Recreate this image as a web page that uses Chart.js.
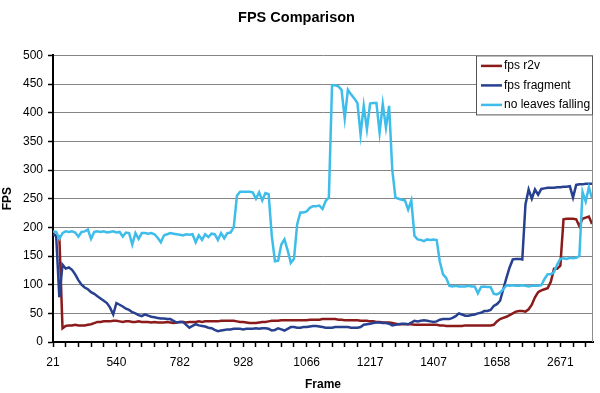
<!DOCTYPE html>
<html>
<head>
<meta charset="utf-8">
<title>FPS Comparison</title>
<script src="https://cdn.jsdelivr.net/npm/chart.js@4.4.1/dist/chart.umd.min.js"></script>
<style>
    html, body { margin: 0; padding: 0; background: #fff; }
    #wrap { width: 600px; height: 393px; position: relative; }
</style>
</head>
<body>
<div id="wrap"><canvas id="fpsChart" width="600" height="393"></canvas></div>
<script>
// Frame labels shown under every 5th tick mark
const tickLabels = ['21', '540', '782', '928', '1066', '1217', '1407', '1658', '2671'];

// Samples, 4 samples per tick mark
const fpsR2v = [
    188, 186, 184, 24, 28, 29, 29, 30, 29, 29,
    29, 30, 31, 33, 35, 35, 36, 36, 36, 37,
    37, 36, 35, 36, 36, 35, 35, 36, 35, 35,
    35, 34, 35, 34, 34, 34, 35, 34, 33, 34,
    35, 35, 34, 35, 35, 35, 36, 35, 36, 36,
    36, 36, 36, 37, 37, 37, 37, 37, 36, 35,
    35, 34, 33, 33, 33, 34, 35, 35, 36, 37,
    37, 37, 38, 38, 38, 38, 38, 38, 38, 38,
    38, 39, 39, 39, 39, 40, 40, 40, 40, 40,
    39, 39, 38, 38, 38, 38, 38, 37, 37, 37,
    36, 36, 35, 35, 34, 34, 34, 33, 32, 31,
    31, 31, 31, 31, 30, 30, 30, 30, 30, 30,
    30, 30, 29, 29, 28, 28, 28, 28, 28, 28,
    29, 29, 29, 29, 29, 29, 29, 29, 29, 30,
    36, 40, 42, 44, 47, 50, 53, 54, 54, 53,
    57, 65, 78, 87, 90, 92, 94, 105, 128, 128,
    133, 214, 215, 215, 215, 214, 202, 215, 217, 219,
    206
];

const fpsFragment = [
    188, 185, 78, 135, 128, 130, 126, 118, 108, 100,
    95, 92, 87, 84, 80, 76, 72, 68, 60, 48,
    68, 65, 62, 58, 56, 52, 50, 47, 45, 48,
    46, 44, 43, 42, 41, 41, 40, 40, 37, 34,
    35, 35, 30, 25, 28, 31, 29, 28, 27, 25,
    24, 21, 19, 20, 21, 22, 22, 23, 23, 23,
    22, 23, 23, 23, 24, 23, 24, 24, 23, 20,
    21, 24, 22, 20, 23, 26, 26, 25, 25, 26,
    26, 27, 28, 28, 27, 26, 25, 25, 25, 26,
    26, 26, 26, 26, 25, 25, 25, 26, 30, 31,
    32, 33, 34, 34, 33, 33, 32, 29, 30, 31,
    32, 32, 31, 34, 37, 36, 37, 38, 37, 36,
    35, 36, 39, 40, 40, 40, 42, 45, 50, 48,
    46, 46, 47, 48, 50, 51, 54, 54, 56, 63,
    66, 72, 92, 112, 130, 144, 145, 145, 144, 240,
    266, 250, 266, 257, 267, 268, 269, 269, 269, 270,
    270, 271, 271, 272, 252, 274, 275, 275, 276, 276,
    276
];

const noLeaves = [
    193, 192, 180, 190, 193, 192, 193, 191, 184, 192,
    193, 196, 180, 192, 193, 192, 193, 191, 192, 193,
    191, 192, 184, 191, 190, 170, 190, 180, 190, 190,
    189, 190, 188, 182, 174, 186, 188, 190, 189, 188,
    187, 186, 188, 187, 188, 174, 186, 178, 188, 183,
    189, 188, 178, 190, 181, 190, 191, 200, 255, 262,
    262, 262, 262, 261, 250, 261, 247, 260, 258, 185,
    141, 142, 170, 179, 160, 138, 145, 205, 226, 226,
    228, 234, 237, 237, 238, 232, 246, 252, 448, 448,
    446, 440, 390, 440, 432, 425, 417, 362, 412, 371,
    416, 417, 417, 365, 415, 374, 412, 300, 252, 250,
    248, 247, 231, 247, 185, 179, 178, 176, 179, 178,
    179, 178, 140, 118, 112, 98, 97, 98, 97, 97,
    97, 98, 97, 97, 85, 96, 97, 96, 96, 84,
    83, 86, 92, 99, 98, 99, 98, 98, 99, 98,
    97, 98, 98, 98, 99, 110, 118, 118, 122, 135,
    145, 146, 145, 147, 146, 147, 150, 262, 245, 270,
    250
];

const samplesPerTick = 4;
const ticksPerLabel = 5;

function toPoints(values) {
    return values.map((v, i) => ({ x: i, y: v }));
}

// Legend box sitting over the top right of the plot, like the original
const boxLegend = {
    id: 'boxLegend',
    afterDatasetsDraw(chart) {
        const ctx = chart.ctx;
        const area = chart.chartArea;
        const w = 117, h = 60;
        const left = area.right - w;
        const top = area.top;

        ctx.save();
        // right border of the plot area
        ctx.strokeStyle = '#8c8c8c';
        ctx.lineWidth = 1;
        ctx.beginPath();
        ctx.moveTo(area.right - 0.5, area.top);
        ctx.lineTo(area.right - 0.5, area.bottom);
        ctx.stroke();

        ctx.fillStyle = '#fff';
        ctx.fillRect(left, top, w, h);
        ctx.strokeStyle = '#555';
        ctx.strokeRect(left + 0.5, top + 0.5, w - 1, h - 1);

        ctx.font = '12px Arial, "Liberation Sans", sans-serif';
        ctx.textBaseline = 'middle';
        chart.data.datasets.forEach((ds, i) => {
            const y = top + 10.5 + i * 19.5;
            ctx.strokeStyle = ds.borderColor;
            ctx.lineWidth = 2.5;
            ctx.beginPath();
            ctx.moveTo(left + 5, y);
            ctx.lineTo(left + 26, y);
            ctx.stroke();
            ctx.fillStyle = '#000';
            ctx.fillText(ds.label, left + 28, y);
        });
        ctx.restore();
    }
};

const ctx = document.getElementById('fpsChart').getContext('2d');
const fpsChart = new Chart(ctx, {
    type: 'line',
    data: {
        datasets: [
            { label: 'fps r2v', data: toPoints(fpsR2v), borderColor: '#8b1a1a', order: 3 },
            { label: 'fps fragment', data: toPoints(fpsFragment), borderColor: '#27408f', order: 2 },
            { label: 'no leaves falling', data: toPoints(noLeaves), borderColor: '#3fbdea', order: 1 }
        ]
    },
    options: {
        responsive: false,
        animation: false,
        layout: { padding: { left: 0, right: 7, top: 0, bottom: 0 } },
        elements: {
            line: { borderWidth: 2.5, tension: 0, fill: false },
            point: { radius: 0 }
        },
        plugins: {
            legend: { display: false },
            tooltip: { enabled: false },
            title: {
                display: true,
                text: 'FPS Comparison',
                color: '#000',
                font: { family: 'Arial, "Liberation Sans", sans-serif', size: 14.5, weight: 'bold' },
                padding: { top: 9, bottom: 29 }
            }
        },
        scales: {
            x: {
                type: 'linear',
                min: 0,
                max: 170.3,
                afterFit: (scale) => { scale.height = 51; },
                border: { color: '#000', width: 2 },
                grid: { drawOnChartArea: false, drawTicks: true, tickLength: 5, tickColor: '#000', tickWidth: 1.5 },
                ticks: {
                    stepSize: samplesPerTick,
                    includeBounds: false,
                    autoSkip: false,
                    maxRotation: 0,
                    padding: 8,
                    color: '#000',
                    font: { family: 'Arial, "Liberation Sans", sans-serif', size: 12 },
                    callback: (v) => {
                        const step = samplesPerTick * ticksPerLabel;
                        return v % step === 0 ? tickLabels[v / step] : '';
                    }
                },
                title: {
                    display: true,
                    text: 'Frame',
                    color: '#000',
                    font: { family: 'Arial, "Liberation Sans", sans-serif', size: 12, weight: 'bold' },
                    padding: { top: 0, bottom: 1 }
                }
            },
            y: {
                min: 0,
                max: 500,
                afterFit: (scale) => { scale.width = 53; },
                border: { color: '#000', width: 2 },
                grid: { color: '#858585', lineWidth: 1, tickLength: 5, tickColor: '#000', tickWidth: 1.5 },
                ticks: {
                    stepSize: 50,
                    padding: 5,
                    color: '#000',
                    font: { family: 'Arial, "Liberation Sans", sans-serif', size: 12 }
                },
                title: {
                    display: true,
                    text: 'FPS',
                    color: '#000',
                    font: { family: 'Arial, "Liberation Sans", sans-serif', size: 12, weight: 'bold' },
                    padding: { top: 0, bottom: 8 }
                }
            }
        }
    },
    plugins: [boxLegend]
});
</script>
</body>
</html>
